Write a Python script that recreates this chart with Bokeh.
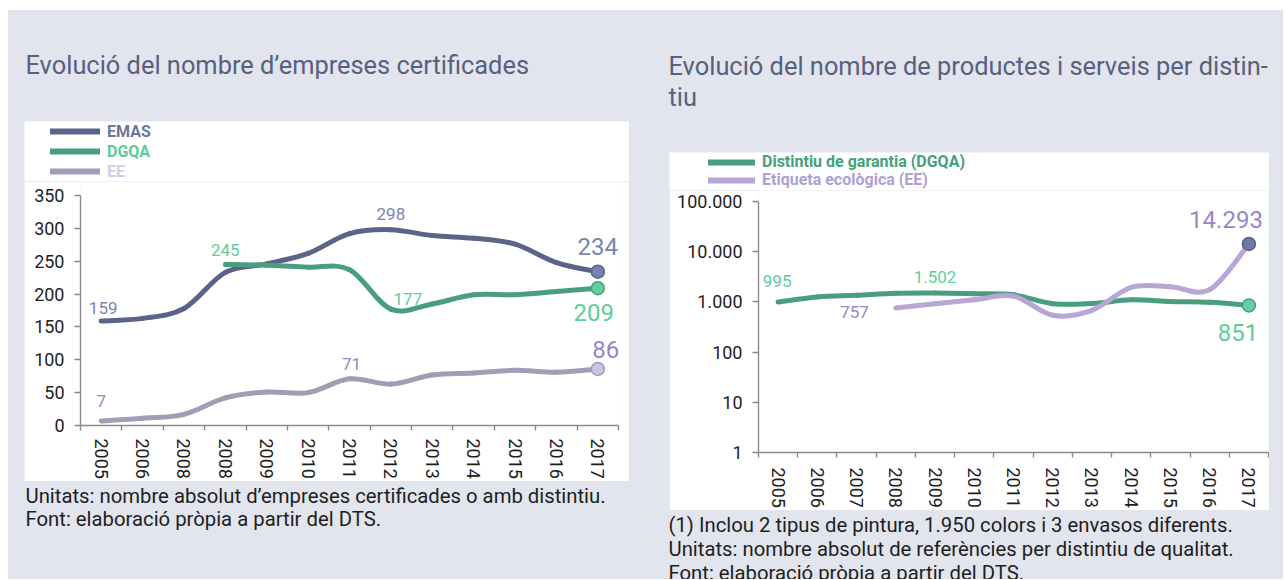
import math
from bokeh.plotting import figure
from bokeh.models import Range1d, FixedTicker, Legend, LegendItem, ColumnDataSource, Plot
from bokeh.layouts import row, column
from bokeh.core.properties import value
from bokeh.embed import file_html
from bokeh.resources import INLINE

# ---------------- data ----------------
left_years = ["2005", "2006", "2008", "2008", "2009", "2010", "2011",
              "2012", "2013", "2014", "2015", "2016", "2017"]
emas = [159, 163, 178, 233, 246, 262, 292, 298, 289, 285, 276, 248, 234]
dgqa_empreses = [None, None, None, 245, 244, 241, 237, 177, 185, 199, 199, 204, 209]
ee_empreses = [7, 11, 17, 42, 51, 50, 71, 63, 77, 80, 84, 81, 86]
left_y_ticks = [0, 50, 100, 150, 200, 250, 300, 350]

right_years = ["2005", "2006", "2007", "2008", "2009", "2010", "2011",
               "2012", "2013", "2014", "2015", "2016", "2017"]
dgqa_productes = [995, 1250, 1350, 1480, 1502, 1450, 1380, 920, 930, 1100, 1020, 980, 851]
ee_productes = [None, None, None, 757, 920, 1100, 1300, 540, 680, 1950, 2000, 1750, 14293]
right_y_ticks = [1, 10, 100, 1000, 10000, 100000]
right_y_tick_labels = ["1", "10", "100", "1.000", "10.000", "100.000"]

left_title = "Evolució del nombre d’empreses certificades"
right_title = ["Evolució del nombre de productes i serveis per distin-", "tiu"]
left_notes = ["Unitats: nombre absolut d’empreses certificades o amb distintiu.",
              "Font: elaboració pròpia a partir del DTS."]
right_notes = ["(1) Inclou 2 tipus de pintura, 1.950 colors i 3 envasos diferents.",
               "Unitats: nombre absolut de referències per distintiu de qualitat.",
               "Font: elaboració pròpia a partir del DTS."]

# ---------------- styles ----------------
GRAY = "#e2e5ee"
TITLE_C = "#58607f"
TXT_C = "#1e1e1e"
AXIS_C = "#8a8a8a"
FONT = "Roboto"

EMAS_LINE, EMAS_LBL, EMAS_LEG = "#5b6488", "#7b83b3", "#6c74a0"
DG_LINE, DG_LBL, DG_LEG_L, DG_LEG_R = "#4a9e80", "#5fcc9c", "#5dcb98", "#45a07c"
EE_LINE_L, EE_LBL, EE_LEG_L = "#a69bb6", "#9986c9", "#d5cce5"
EE_LINE_R, EE_LEG_R = "#b7a6d6", "#b09fd4"

NOALIGN = {"frame_align": False} if "frame_align" in Plot.properties() else {}
NAN = float("nan")


def fmt(v):
    return f"{v:,}".replace(",", ".")


def smooth(xs, ys, log=False):
    pts = [(x, math.log10(y) if log else y) for x, y in zip(xs, ys) if y is not None]
    back = (lambda v: 10 ** v) if log else (lambda v: v)
    d = {k: [] for k in ("x0", "y0", "x1", "y1", "cx0", "cy0", "cx1", "cy1")}
    n = len(pts)
    for k in range(n - 1):
        p0 = pts[max(k - 1, 0)]
        p1 = pts[k]
        p2 = pts[k + 1]
        p3 = pts[min(k + 2, n - 1)]
        d["x0"].append(p1[0]); d["y0"].append(back(p1[1]))
        d["x1"].append(p2[0]); d["y1"].append(back(p2[1]))
        d["cx0"].append(p1[0] + (p2[0] - p0[0]) / 6)
        d["cy0"].append(back(p1[1] + (p2[1] - p0[1]) / 6))
        d["cx1"].append(p2[0] - (p3[0] - p1[0]) / 6)
        d["cy1"].append(back(p2[1] - (p3[1] - p1[1]) / 6))
    return ColumnDataSource(d)


def draw_series(p, xs, ys, color, log=False):
    src = smooth(xs, ys, log)
    p.bezier(x0="x0", y0="y0", x1="x1", y1="y1", cx0="cx0", cy0="cy0",
             cx1="cx1", cy1="cy1", source=src, line_color=color,
             line_width=5, line_cap="round")


def legend_fig(w, h, entries, margin):
    p = figure(width=w, height=h, x_range=Range1d(0, 1), y_range=Range1d(0, 1),
               toolbar_location=None, output_backend="svg", min_border=0,
               x_axis_location=None, y_axis_location=None, title_location=None,
               background_fill_color="white", border_fill_color="white",
               outline_line_color=None, margin=margin, **NOALIGN)
    p.grid.visible = False
    for (label, line_color, text_color, vx, vy, glyph_w, row_h) in entries:
        r = p.line(x=[NAN, NAN], y=[NAN, NAN], line_color=line_color, line_width=6,
                   line_cap="round")
        lg = Legend(items=[LegendItem(label=label, renderers=[r])], location=(vx, vy),
                    padding=0, margin=0, spacing=0, glyph_width=glyph_w,
                    glyph_height=row_h, label_height=row_h, label_standoff=7,
                    label_text_font=FONT, label_text_font_style="bold",
                    label_text_font_size="16px", label_text_color=text_color,
                    background_fill_alpha=0, border_line_color=None)
        p.add_layout(lg)
    return p


def add_label(p, x, y, txt, color, size, dx=0, dy=0, align="center"):
    p.text(x=[x], y=[y], text=[txt], x_offset=dx, y_offset=dy, text_color=color,
           text_font=value(FONT), text_font_size=size, text_align=align,
           text_baseline="alphabetic")


def style_axes(p, labels, y_ticks, y_bounds, y_overrides=None, x_standoff=8):
    n = len(labels)
    p.xaxis.ticker = FixedTicker(ticks=list(range(n)),
                                 minor_ticks=[i - 0.5 for i in range(n + 1)])
    p.xaxis.major_label_overrides = {i: lab for i, lab in enumerate(labels)}
    p.xaxis.major_label_orientation = "vertical"
    p.xaxis.major_tick_line_color = None
    p.xaxis.major_tick_out = 0
    p.xaxis.major_tick_in = 0
    p.xaxis.minor_tick_line_color = AXIS_C
    p.xaxis.minor_tick_out = 5
    p.xaxis.minor_tick_in = 0
    p.xaxis.major_label_standoff = x_standoff
    p.yaxis.ticker = FixedTicker(ticks=y_ticks, minor_ticks=[])
    p.yaxis.bounds = y_bounds
    p.yaxis.major_tick_line_color = AXIS_C
    p.yaxis.major_tick_out = 6
    p.yaxis.major_tick_in = 0
    p.yaxis.minor_tick_line_color = None
    p.yaxis.major_label_standoff = 10
    if y_overrides:
        p.yaxis.major_label_overrides = y_overrides
    for ax in (p.xaxis, p.yaxis):
        ax.axis_line_color = AXIS_C
        ax.axis_line_width = 1.4
        ax.major_tick_line_width = 1.4
        ax.minor_tick_line_width = 1.4
        ax.major_label_text_font = FONT
        ax.major_label_text_font_size = "18px"
        ax.major_label_text_color = TXT_C
    p.grid.visible = False


def text_fig(w, h, items):
    p = figure(width=w, height=h, x_range=Range1d(0, w), y_range=Range1d(h, 0),
               toolbar_location=None, output_backend="svg", min_border=0,
               x_axis_location=None, y_axis_location=None, title_location=None,
               background_fill_color=GRAY, border_fill_color=GRAY,
               outline_line_color=None, **NOALIGN)
    p.grid.visible = False
    for (x, y, txt, size, color) in items:
        p.text(x=[x], y=[y], text=[txt], text_font=value(FONT), text_font_size=size,
               text_color=color, text_baseline="alphabetic", text_align="left")
    return p


TOTAL_H = 569
L_COL_W, R_COL_W = 640, 635

# ---------------- left chart ----------------
xs = list(range(len(left_years)))
L_W, L_TOP, L_LEG_H, L_H, L_BL, L_BB = 605, 111, 60, 300, 56, 56
L_FRAME_H = L_H - L_BB
pl = figure(width=L_W, height=L_H, x_range=Range1d(-0.5, len(xs) - 0.5),
            y_range=Range1d(0, 350 * L_FRAME_H / 230),
            toolbar_location=None, output_backend="svg", title_location=None,
            min_border_left=L_BL, min_border_right=11, min_border_top=0,
            min_border_bottom=L_BB, background_fill_color="white",
            border_fill_color="white", outline_line_color=None,
            margin=(0, 0, 0, 16), **NOALIGN)
style_axes(pl, left_years, left_y_ticks, (0, 350))

draw_series(pl, xs, emas, EMAS_LINE)
draw_series(pl, xs, dgqa_empreses, DG_LINE)
draw_series(pl, xs, ee_empreses, EE_LINE_L)
pl.scatter([xs[-1]], [emas[-1]], size=13, fill_color="#7a83ad", line_color=EMAS_LINE, line_width=1.5)
pl.scatter([xs[-1]], [dgqa_empreses[-1]], size=13, fill_color="#5fcf9e", line_color=DG_LINE, line_width=1.5)
pl.scatter([xs[-1]], [ee_empreses[-1]], size=13, fill_color="#cbc2dd", line_color=EE_LINE_L, line_width=1.5)

add_label(pl, 0, emas[0], fmt(emas[0]), EMAS_LBL, "17px", 2, -13)
add_label(pl, 7, emas[7], fmt(emas[7]), EMAS_LBL, "17px", 0, -16)
add_label(pl, 12, emas[12], fmt(emas[12]), EMAS_LBL, "24px", 0, -25)
add_label(pl, 3, dgqa_empreses[3], fmt(dgqa_empreses[3]), DG_LBL, "17px", 0, -15)
add_label(pl, 7, dgqa_empreses[7], fmt(dgqa_empreses[7]), DG_LBL, "17px", 17, -10)
add_label(pl, 12, dgqa_empreses[12], fmt(dgqa_empreses[12]), DG_LBL, "24px", -4, 24)
add_label(pl, 0, ee_empreses[0], fmt(ee_empreses[0]), EE_LBL, "17px", 0, -20)
add_label(pl, 6, ee_empreses[6], fmt(ee_empreses[6]), EE_LBL, "17px", 2, -15)
add_label(pl, 12, ee_empreses[12], fmt(ee_empreses[12]), EE_LBL, "24px", 8, -19.5)

leg_l = legend_fig(L_W, L_LEG_H, [
    ("EMAS", EMAS_LINE, EMAS_LEG, 26, 40, 50, 20),
    ("DGQA", DG_LINE, DG_LEG_L, 26, 20, 50, 20),
    ("EE", EE_LINE_L, EE_LEG_L, 26, 0, 50, 20),
], margin=(0, 0, 0, 16))

# ---------------- right chart ----------------
xr = list(range(len(right_years)))
R_W, R_TOP, R_LEG_H, R_H, R_BL, R_BB = 600, 142, 38, 320, 89, 57
R_FRAME_H = R_H - R_BB
decades = 5 * R_FRAME_H / 252
pr = figure(width=R_W, height=R_H, x_range=Range1d(-0.5, len(xr) - 0.5),
            y_range=Range1d(1, 10 ** decades), y_axis_type="log",
            toolbar_location=None, output_backend="svg", title_location=None,
            min_border_left=R_BL, min_border_right=1, min_border_top=0,
            min_border_bottom=R_BB, background_fill_color="white",
            border_fill_color="white", outline_line_color=None,
            margin=(0, 0, 0, 21), **NOALIGN)
style_axes(pr, right_years, right_y_ticks, (1, 100000),
           {t: lab for t, lab in zip(right_y_ticks, right_y_tick_labels)}, x_standoff=10)

draw_series(pr, xr, dgqa_productes, DG_LINE, log=True)
draw_series(pr, xr, ee_productes, EE_LINE_R, log=True)
pr.scatter([xr[-1]], [dgqa_productes[-1]], size=13, fill_color="#62cf9e", line_color=DG_LINE, line_width=1.5)
pr.scatter([xr[-1]], [ee_productes[-1]], size=13, fill_color="#6f7aa3", line_color="#56608a", line_width=1.5)

add_label(pr, 0, dgqa_productes[0], fmt(dgqa_productes[0]), DG_LBL, "17px", -1, -21)
add_label(pr, 4, dgqa_productes[4], fmt(dgqa_productes[4]), DG_LBL, "17px", 0, -16)
add_label(pr, 3, ee_productes[3], fmt(ee_productes[3]), EE_LBL, "17px", -27, 4, "right")
add_label(pr, 12, ee_productes[12], fmt(ee_productes[12]), EE_LBL, "24px", 14, -24.6, "right")
add_label(pr, 12, dgqa_productes[12], fmt(dgqa_productes[12]), DG_LBL, "24px", -11, 27)

leg_r = legend_fig(R_W, R_LEG_H, [
    ("Distintiu de garantia (DGQA)", DG_LINE, DG_LEG_R, 39, 19, 47, 18),
    ("Etiqueta ecològica (EE)", EE_LINE_R, EE_LEG_R, 39, 1, 47, 18),
], margin=(0, 0, 0, 21))

# ---------------- titles / notes ----------------
T_SIZE, N_SIZE = "25.4px", "20.3px"
t_left = text_fig(L_COL_W, L_TOP, [(17, 54, left_title, T_SIZE, TITLE_C)])
f_left = text_fig(L_COL_W, TOTAL_H - L_TOP - L_LEG_H - L_H,
                  [(17, 14, left_notes[0], N_SIZE, TXT_C),
                   (17, 37, left_notes[1], N_SIZE, TXT_C)])
t_right = text_fig(R_COL_W, R_TOP, [(20, 55, right_title[0], T_SIZE, TITLE_C),
                                    (20, 86, right_title[1], T_SIZE, TITLE_C)])
f_right = text_fig(R_COL_W, TOTAL_H - R_TOP - R_LEG_H - R_H,
                   [(20, 14, right_notes[0], N_SIZE, TXT_C),
                    (20, 38, right_notes[1], N_SIZE, TXT_C),
                    (20, 62, right_notes[2], N_SIZE, TXT_C)])

left_col = column(t_left, leg_l, pl, f_left, spacing=0, styles={"background-color": GRAY})
right_col = column(t_right, leg_r, pr, f_right, spacing=0, styles={"background-color": GRAY})
root = row(left_col, right_col, spacing=0, margin=(10, 0, 0, 8),
           styles={"background-color": GRAY})

open("out.html", "w").write(file_html(root, INLINE))
